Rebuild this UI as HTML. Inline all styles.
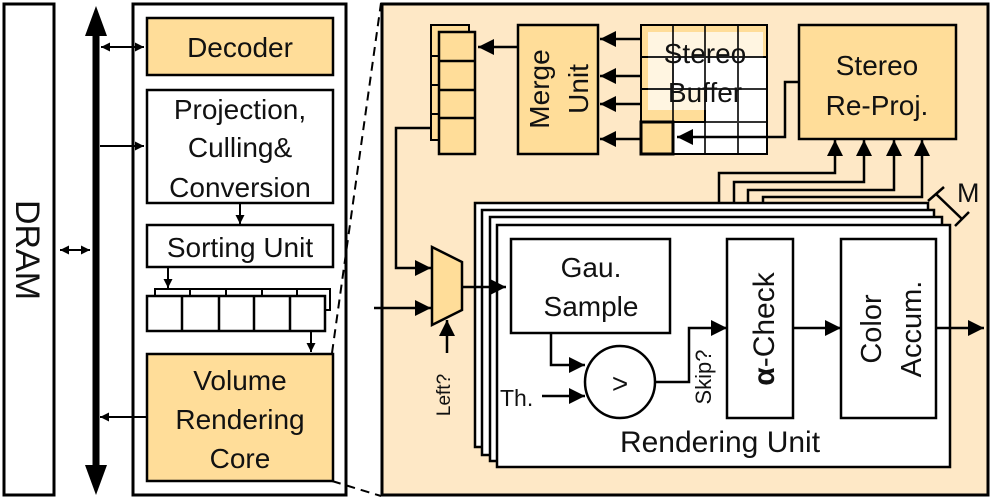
<!DOCTYPE html>
<html><head><meta charset="utf-8"><style>
html,body{margin:0;padding:0;background:#fff;}
svg{display:block;font-family:"Liberation Sans",Arial,sans-serif;}
text{fill:#111;}
</style></head><body>
<svg width="996" height="501" viewBox="0 0 996 501" xmlns="http://www.w3.org/2000/svg">
<defs>
<marker id="a" viewBox="0 0 10 10" refX="10" refY="5" markerWidth="16" markerHeight="16" markerUnits="userSpaceOnUse" orient="auto"><path d="M0,0 L10,5 L0,10 z" fill="#000"/></marker>
<marker id="s" viewBox="0 0 10 10" refX="10" refY="5" markerWidth="9" markerHeight="9" markerUnits="userSpaceOnUse" orient="auto-start-reverse"><path d="M0,0 L10,5 L0,10 z" fill="#000"/></marker>
</defs>

<!-- DRAM -->
<rect x="4" y="4" width="50" height="491" fill="#fff" stroke="#000" stroke-width="3"/>
<text x="0" y="0" font-size="34" text-anchor="middle" transform="translate(16,250) rotate(90)">DRAM</text>

<!-- Bus -->
<line x1="96" y1="30" x2="96" y2="470" stroke="#000" stroke-width="7"/>
<polygon points="96,6 85,36 107,36" fill="#000"/>
<polygon points="96,495 85,465 107,465" fill="#000"/>
<line x1="60" y1="250" x2="90" y2="250" stroke="#000" stroke-width="2" marker-start="url(#s)" marker-end="url(#s)"/>

<!-- Left outer -->
<rect x="133" y="4" width="213" height="491" fill="#fff" stroke="#000" stroke-width="3"/>
<rect x="147" y="18" width="186" height="57" fill="#ffdd99" stroke="#000" stroke-width="2.5"/>
<text x="240" y="57" font-size="28" text-anchor="middle">Decoder</text>
<line x1="101" y1="47" x2="144" y2="47" stroke="#000" stroke-width="2" marker-start="url(#s)" marker-end="url(#s)"/>

<rect x="147" y="90" width="186" height="113" fill="#fff" stroke="#000" stroke-width="2.5"/>
<text font-size="28" text-anchor="middle"><tspan x="240" y="119">Projection,</tspan><tspan x="240" y="157">Culling&amp;</tspan><tspan x="240" y="197">Conversion</tspan></text>
<line x1="100" y1="146" x2="144" y2="146" stroke="#000" stroke-width="2" marker-end="url(#s)"/>
<line x1="240" y1="203" x2="240" y2="224" stroke="#000" stroke-width="2" marker-end="url(#s)"/>

<rect x="147" y="225" width="186" height="42" fill="#fff" stroke="#000" stroke-width="2.5"/>
<text x="240" y="257" font-size="28" text-anchor="middle">Sorting Unit</text>
<line x1="168" y1="267" x2="168" y2="288" stroke="#000" stroke-width="2" marker-end="url(#s)"/>

<rect x="155" y="289" width="175" height="21" fill="#fff" stroke="#000" stroke-width="2"/>
<g stroke="#000" stroke-width="2"><line x1="190" y1="289" x2="190" y2="296"/><line x1="226" y1="289" x2="226" y2="296"/><line x1="262" y1="289" x2="262" y2="296"/><line x1="297" y1="289" x2="297" y2="296"/></g>
<rect x="147" y="296" width="178" height="35" fill="#fff" stroke="#000" stroke-width="2.5"/>
<g stroke="#000" stroke-width="2.5"><line x1="182" y1="296" x2="182" y2="331"/><line x1="219" y1="296" x2="219" y2="331"/><line x1="254" y1="296" x2="254" y2="331"/><line x1="290" y1="296" x2="290" y2="331"/></g>
<line x1="311" y1="331" x2="311" y2="352" stroke="#000" stroke-width="2" marker-end="url(#s)"/>

<rect x="147" y="354" width="186" height="127" fill="#ffdd99" stroke="#000" stroke-width="2.5"/>
<text font-size="28" text-anchor="middle"><tspan x="240" y="390">Volume</tspan><tspan x="240" y="429">Rendering</tspan><tspan x="240" y="468">Core</tspan></text>
<line x1="147" y1="417" x2="100" y2="417" stroke="#000" stroke-width="2" marker-end="url(#s)"/>

<!-- dashed -->
<line x1="332" y1="353" x2="381" y2="3" stroke="#000" stroke-width="2" stroke-dasharray="9,6"/>
<line x1="332" y1="481" x2="381" y2="496" stroke="#000" stroke-width="2" stroke-dasharray="9,6"/>

<!-- Right outer -->
<rect x="382" y="4" width="606" height="491" fill="#fee8c6" stroke="#000" stroke-width="3"/>

<!-- queue top -->
<rect x="431" y="25" width="38" height="115" fill="#ffdd99" stroke="#000" stroke-width="2"/>
<rect x="439" y="32" width="36" height="122" fill="#ffdd99" stroke="#000" stroke-width="2.5"/>
<g stroke="#000" stroke-width="2.5"><line x1="439" y1="61" x2="475" y2="61"/><line x1="439" y1="90" x2="475" y2="90"/><line x1="439" y1="118" x2="475" y2="118"/></g>
<g stroke="#000" stroke-width="2"><line x1="431" y1="56" x2="439" y2="56"/><line x1="431" y1="85" x2="439" y2="85"/><line x1="431" y1="114" x2="439" y2="114"/></g>
<line x1="518" y1="47" x2="478" y2="47" stroke="#000" stroke-width="2.5" marker-end="url(#a)"/>

<!-- Merge -->
<rect x="518" y="25" width="80" height="129" fill="#ffdd99" stroke="#000" stroke-width="2.5"/>
<text font-size="28" text-anchor="middle" transform="translate(558,89) rotate(-90)"><tspan x="0" y="-9">Merge</tspan><tspan x="0" y="30">Unit</tspan></text>

<!-- Stereo buffer -->
<g stroke="#000" stroke-width="2">
<rect x="641" y="25" width="126" height="32" fill="#ffdd99"/>
<rect x="641" y="57" width="126" height="97" fill="#fff"/>
<rect x="641" y="57" width="32" height="32" fill="#ffdd99"/>
<rect x="641" y="89" width="64" height="33" fill="#ffdd99"/>
</g>
<rect x="648" y="32" width="115" height="78" fill="#fff" opacity="0.7"/>
<g stroke="#000" stroke-width="2" opacity="0.8">
<line x1="673" y1="25" x2="673" y2="154"/><line x1="705" y1="25" x2="705" y2="154"/><line x1="738" y1="25" x2="738" y2="154"/>
<line x1="641" y1="57" x2="767" y2="57"/><line x1="641" y1="89" x2="767" y2="89"/><line x1="641" y1="122" x2="767" y2="122"/>
</g>
<rect x="641" y="25" width="126" height="129" fill="none" stroke="#000" stroke-width="2"/>
<rect x="641" y="122" width="32" height="32" fill="#ffdd99" stroke="#000" stroke-width="3"/>
<text font-size="28" text-anchor="middle"><tspan x="705" y="63">Stereo</tspan><tspan x="705" y="102">Buffer</tspan></text>
<g stroke="#000" stroke-width="2.5">
<line x1="641" y1="39" x2="600" y2="39" marker-end="url(#a)"/>
<line x1="641" y1="76" x2="600" y2="76" marker-end="url(#a)"/>
<line x1="641" y1="104" x2="600" y2="104" marker-end="url(#a)"/>
<line x1="641" y1="139" x2="600" y2="139" marker-end="url(#a)"/>
</g>

<!-- Re-Proj -->
<rect x="799" y="25" width="157" height="114" fill="#ffdd99" stroke="#000" stroke-width="2.5"/>
<text font-size="28" text-anchor="middle"><tspan x="877" y="75">Stereo</tspan><tspan x="877" y="115">Re-Proj.</tspan></text>
<polyline points="799,82 785,82 785,137 677,137" fill="none" stroke="#000" stroke-width="2.5" marker-end="url(#a)"/>

<!-- up arrows -->
<g fill="none" stroke="#000" stroke-width="2.5">
<polyline points="719,204 719,173 835,173 835,140" marker-end="url(#a)"/>
<polyline points="734,210 734,182 864,182 864,140" marker-end="url(#a)"/>
<polyline points="748,217 748,190 894,190 894,140" marker-end="url(#a)"/>
<polyline points="763,239 763,197 922,197 922,140" marker-end="url(#a)"/>
</g>

<!-- M -->
<g stroke="#000" stroke-width="2.5"><line x1="936" y1="194" x2="962" y2="219"/><line x1="928" y1="201" x2="944" y2="187"/><line x1="955" y1="226" x2="969" y2="212"/></g>
<text x="957" y="202" font-size="27">M</text>

<!-- stack -->
<g stroke="#000" stroke-width="2.5" fill="#fff">
<rect x="475" y="203" width="453" height="244"/>
<rect x="482" y="210" width="452" height="245"/>
<rect x="490" y="217" width="452" height="244"/>
<rect x="497" y="225" width="453" height="242"/>
</g>
<text x="720" y="452" font-size="30" text-anchor="middle">Rendering Unit</text>

<!-- Mux -->
<polygon points="432,247 462,262 462,310 432,325" fill="#ffdd99" stroke="#000" stroke-width="2.5"/>
<polyline points="431,128 396,128 396,268 431,268" fill="none" stroke="#000" stroke-width="2.5" marker-end="url(#a)"/>
<line x1="374" y1="308" x2="431" y2="308" stroke="#000" stroke-width="2.5" marker-end="url(#a)"/>
<line x1="447" y1="353" x2="447" y2="320" stroke="#000" stroke-width="2.5" marker-end="url(#a)"/>
<text font-size="19" text-anchor="middle" transform="translate(450,395) rotate(-90)">Left?</text>
<line x1="462" y1="287" x2="506" y2="287" stroke="#000" stroke-width="2.5" marker-end="url(#a)"/>

<!-- Gau sample -->
<rect x="511" y="239" width="159" height="94" fill="#fff" stroke="#000" stroke-width="2.5"/>
<text font-size="28" text-anchor="middle"><tspan x="591" y="277">Gau.</tspan><tspan x="591" y="316">Sample</tspan></text>
<polyline points="551,333 551,365 585,365" fill="none" stroke="#000" stroke-width="2.5" marker-end="url(#a)"/>
<ellipse cx="620" cy="382" rx="35" ry="36" fill="#fff" stroke="#000" stroke-width="2.5"/>
<text x="620" y="393" font-size="28" text-anchor="middle">&gt;</text>
<text x="500" y="406" font-size="23">Th.</text>
<line x1="542" y1="396" x2="585" y2="396" stroke="#000" stroke-width="2.5" marker-end="url(#a)"/>
<polyline points="655,382 689,382 689,328 727,328" fill="none" stroke="#000" stroke-width="2.5" marker-end="url(#a)"/>
<text font-size="22" text-anchor="middle" transform="translate(711,377) rotate(-90)">Skip?</text>

<!-- alpha check -->
<rect x="727" y="239" width="66" height="179" fill="#fff" stroke="#000" stroke-width="2.5"/>
<text font-size="30" text-anchor="middle" x="0" y="14" transform="translate(760,329) rotate(-90)"><tspan font-weight="bold">α</tspan>-Check</text>
<line x1="793" y1="328" x2="841" y2="328" stroke="#000" stroke-width="2.5" marker-end="url(#a)"/>

<!-- color accum -->
<rect x="841" y="239" width="95" height="179" fill="#fff" stroke="#000" stroke-width="2.5"/>
<text font-size="29" text-anchor="middle" transform="translate(888,329) rotate(-90)"><tspan x="0" y="-7">Color</tspan><tspan x="0" y="33">Accum.</tspan></text>
<line x1="936" y1="328" x2="984" y2="328" stroke="#000" stroke-width="2.5" marker-end="url(#a)"/>
</svg>
</body></html>
